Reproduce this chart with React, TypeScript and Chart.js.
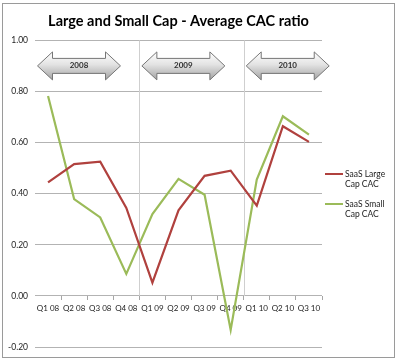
import React, { useEffect, useRef } from "react";
import { Chart, registerables } from "chart.js";

Chart.register(...registerables);

const categories = ["Q1 08", "Q2 08", "Q3 08", "Q4 08", "Q1 09", "Q2 09", "Q3 09", "Q4 09", "Q1 10", "Q2 10", "Q3 10"];
const largeCap = [0.444, 0.516, 0.525, 0.344, 0.052, 0.335, 0.47, 0.49, 0.353, 0.664, 0.603];
const smallCap = [0.782, 0.379, 0.307, 0.086, 0.32, 0.458, 0.396, -0.133, 0.455, 0.703, 0.631];
const seriesNames = ["SaaS Large Cap CAC", "SaaS Small Cap CAC"];
const legendLines = [["SaaS Large", "Cap CAC"], ["SaaS Small", "Cap CAC"]];
const years = ["2008", "2009", "2010"];
const yearStartIndex = [0, 4, 8];
const yTicks = { min: -0.2, max: 1.0, step: 0.2 };

const FONT = "Lato, 'Open Sans', sans-serif";
const SMALL = 8.5;
const RED = "#B0413E";
const GREEN = "#9BBB59";

const decorPlugin = {
  id: "decor",
  beforeDatasetsDraw(chart: any) {
    const ctx = chart.ctx;
    const x = chart.scales.x;
    const y = chart.scales.y;
    const top = y.getPixelForValue(yTicks.max);
    const zero = y.getPixelForValue(0);
    ctx.save();
    ctx.strokeStyle = "#cfcfcf";
    ctx.lineWidth = 1;
    yearStartIndex.forEach((idx) => {
      if (idx === 0) return;
      const px = Math.round(x.getPixelForValue(idx - 0.5)) + 0.5;
      ctx.beginPath();
      ctx.moveTo(px, top);
      ctx.lineTo(px, zero);
      ctx.stroke();
    });
    const aw = 83, ah = 28, head = 15, shaft = 6.5;
    const at = chart.chartArea.top + 11.5;
    yearStartIndex.forEach((idx, i) => {
      const ax = x.getPixelForValue(idx - 0.5) + 2.5;
      const g = ctx.createLinearGradient(0, at, 0, at + ah);
      g.addColorStop(0, "#ffffff");
      g.addColorStop(0.45, "#e3e3e3");
      g.addColorStop(1, "#a3a3a3");
      ctx.beginPath();
      ctx.moveTo(ax, at + ah / 2);
      ctx.lineTo(ax + head, at);
      ctx.lineTo(ax + head, at + shaft);
      ctx.lineTo(ax + aw - head, at + shaft);
      ctx.lineTo(ax + aw - head, at);
      ctx.lineTo(ax + aw, at + ah / 2);
      ctx.lineTo(ax + aw - head, at + ah);
      ctx.lineTo(ax + aw - head, at + ah - shaft);
      ctx.lineTo(ax + head, at + ah - shaft);
      ctx.lineTo(ax + head, at + ah);
      ctx.closePath();
      ctx.fillStyle = g;
      ctx.fill();
      ctx.strokeStyle = "#767676";
      ctx.lineWidth = 1;
      ctx.stroke();
      ctx.fillStyle = "#303030";
      ctx.font = "bold 8px " + FONT;
      ctx.textAlign = "center";
      ctx.textBaseline = "middle";
      ctx.fillText(years[i], ax + aw / 2, at + ah / 2);
    });
    ctx.restore();
  },
  afterDraw(chart: any) {
    const ctx = chart.ctx;
    const lx = chart.chartArea.right + 3;
    const rowY = [174, 204];
    ctx.save();
    chart.data.datasets.forEach((ds: any, i: number) => {
      const yy = rowY[i];
      ctx.strokeStyle = ds.borderColor;
      ctx.lineWidth = 2;
      ctx.beginPath();
      ctx.moveTo(lx, yy);
      ctx.lineTo(lx + 18, yy);
      ctx.stroke();
      ctx.fillStyle = "#222";
      ctx.font = SMALL + "px " + FONT;
      ctx.textAlign = "left";
      ctx.textBaseline = "middle";
      legendLines[i].forEach((t, j) => ctx.fillText(t, lx + 20, yy + j * 10.5));
    });
    ctx.restore();
  },
};

export default function App() {
  const ref = useRef<HTMLCanvasElement>(null);
  useEffect(() => {
    const chart = new Chart(ref.current!, {
      type: "line",
      data: {
        labels: categories,
        datasets: [
          { label: seriesNames[0], data: largeCap, borderColor: RED, backgroundColor: RED, borderWidth: 2.2, pointRadius: 0, tension: 0 },
          { label: seriesNames[1], data: smallCap, borderColor: GREEN, backgroundColor: GREEN, borderWidth: 2.2, pointRadius: 0, tension: 0 },
        ],
      },
      options: {
        responsive: false,
        animation: false,
        layout: { padding: { top: 0, left: 0, right: 78, bottom: 14 } },
        plugins: {
          legend: { display: false },
          tooltip: { enabled: false },
          title: {
            display: true,
            fullSize: false,
            text: "Large and Small Cap - Average CAC ratio",
            color: "#000",
            font: { family: FONT, size: 14.5, weight: "bold" },
            padding: { top: 13, bottom: 10 },
          },
        },
        scales: {
          x: {
            type: "category",
            offset: true,
            position: { y: 0 } as any,
            afterFit: (s: any) => { s.height = 0; },
            grid: {
              offset: true,
              drawOnChartArea: false,
              drawTicks: true,
              tickLength: 4,
              tickColor: (c: any) => (c.index === 0 ? "rgba(0,0,0,0)" : "#a6a6a6"),
            },
            border: { display: false },
            ticks: { color: "#222", font: { family: FONT, size: 8 }, padding: 4, maxRotation: 0, autoSkip: false },
          },
          y: {
            min: yTicks.min,
            max: yTicks.max,
            afterFit: (s: any) => { s.width = 35; },
            grid: { color: "#b3b3b3", drawTicks: false },
            border: { display: false },
            ticks: {
              stepSize: yTicks.step,
              padding: 7,
              color: "#222",
              font: { family: FONT, size: SMALL },
              callback: (v: any) => (Math.abs(v) < 1e-9 ? 0 : Number(v)).toFixed(2),
            },
          },
        },
      },
      plugins: [decorPlugin],
    });
    return () => chart.destroy();
  }, []);
  return (
    <div style={{ position: "absolute", left: 0, top: 0, width: 400, height: 361, background: "#fff" }}>
      <canvas ref={ref} width={400} height={361} style={{ display: "block" }} />
      <div style={{ position: "absolute", left: 2, top: 3, width: 391, height: 353, border: "1px solid #9a9a9a", pointerEvents: "none" }} />
    </div>
  );
}
